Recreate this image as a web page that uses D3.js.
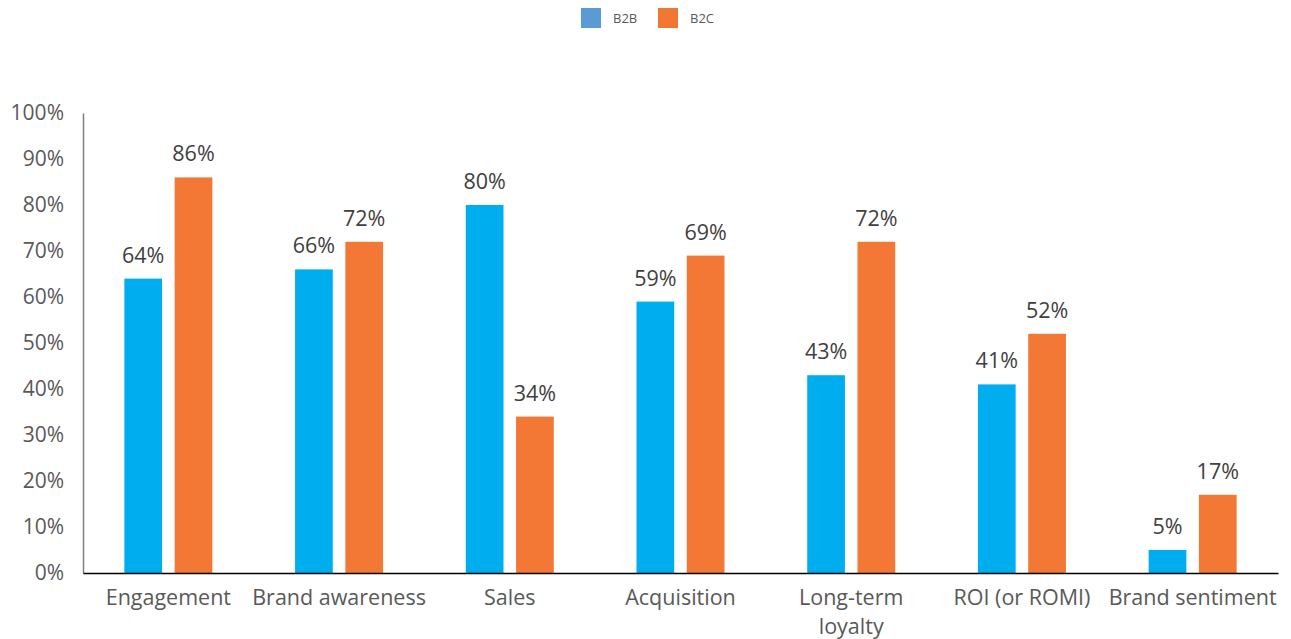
<!DOCTYPE html>
<html>
<head>
<meta charset="utf-8">
<script src="https://cdn.jsdelivr.net/npm/d3@7"></script>
<style>
  html, body { margin: 0; padding: 0; background: #fff; }
  svg { display: block; font-family: "Open Sans", "Noto Sans", sans-serif; }
</style>
</head>
<body>
<svg id="chart" width="1291" height="639"></svg>
<script>
// Social media goals by business type
const categories = ["Engagement", "Brand awareness", "Sales", "Acquisition", "Long-term loyalty", "ROI (or ROMI)", "Brand sentiment"];
const categoryLines = [["Engagement"], ["Brand awareness"], ["Sales"], ["Acquisition"], ["Long-term", "loyalty"], ["ROI (or ROMI)"], ["Brand sentiment"]];
const seriesNames = ["B2B", "B2C"];
const b2b = [64, 66, 80, 59, 43, 41, 5];
const b2c = [86, 72, 34, 69, 72, 52, 17];
const yTicks = [0, 10, 20, 30, 40, 50, 60, 70, 80, 90, 100];

const barColors = { B2B: "#00AEEF", B2C: "#F37735" };
const legendColors = { B2B: "#5B9BD5", B2C: "#F07833" };

const svg = d3.select("#chart");
const margin = { left: 83, right: 13, top: 113, bottom: 66 };
const W = 1291, H = 639;

const x = d3.scaleBand().domain(categories).range([margin.left, W - margin.right]).paddingInner(0).paddingOuter(0);
const xs = d3.scaleBand().domain(seriesNames).range([0, 88]).paddingInner(0.25);
const y = d3.scaleLinear().domain([0, 100]).range([H - margin.bottom, margin.top]);

const rows = categories.map((c, i) => ({ cat: c, B2B: b2b[i], B2C: b2c[i] }));

// Bars
const groups = svg.append("g").selectAll("g").data(rows).join("g")
  .attr("transform", d => `translate(${x(d.cat) + x.bandwidth() / 2 - 44},0)`);

groups.selectAll("rect").data(d => seriesNames.map(s => ({ s, v: d[s] }))).join("rect")
  .attr("x", d => xs(d.s))
  .attr("width", xs.bandwidth())
  .attr("y", d => y(d.v))
  .attr("height", d => y(0) - y(d.v))
  .attr("fill", d => barColors[d.s]);

// Value labels
groups.selectAll("text").data(d => seriesNames.map(s => ({ s, v: d[s] }))).join("text")
  .attr("x", d => xs(d.s) + xs.bandwidth() / 2)
  .attr("y", d => y(d.v) - 16)
  .attr("text-anchor", "middle")
  .attr("font-size", 21.5)
  .attr("fill", "#404040")
  .text(d => d.v + "%");

// Y axis
const yAxis = svg.append("g").attr("transform", `translate(${margin.left},0)`)
  .call(d3.axisLeft(y).tickValues(yTicks).tickSize(0).tickPadding(19).tickFormat(d => d + "%"));
yAxis.select(".domain").attr("stroke", "#7f7f7f").attr("stroke-width", 1.5);
yAxis.selectAll("text").attr("font-size", 21).attr("fill", "#595959")
  .attr("font-family", "'Open Sans', 'Noto Sans', sans-serif");

// X axis
const xAxis = svg.append("g").attr("transform", `translate(0,${y(0)})`)
  .call(d3.axisBottom(x).tickSize(0).tickFormat(""));
xAxis.select(".domain").attr("stroke", "#000").attr("stroke-width", 1.5);

// Category labels (multi-line where needed)
svg.append("g").selectAll("text").data(categories).join("text")
  .attr("x", d => x(d) + x.bandwidth() / 2)
  .attr("y", y(0) + 32)
  .attr("text-anchor", "middle")
  .attr("font-size", 21.5)
  .attr("fill", "#595959")
  .each(function (d, i) {
    d3.select(this).selectAll("tspan").data(categoryLines[i]).join("tspan")
      .attr("x", x(d) + x.bandwidth() / 2)
      .attr("dy", (t, j) => j === 0 ? 0 : 29)
      .text(t => t);
  });

// Legend
const legend = svg.append("g").attr("transform", "translate(581,8)");
const li = legend.selectAll("g").data(seriesNames).join("g")
  .attr("transform", (d, i) => `translate(${i * 77},0)`);
li.append("rect").attr("width", 20).attr("height", 20).attr("fill", d => legendColors[d]);
li.append("text").attr("x", 32).attr("y", 15).attr("font-size", 13).attr("fill", "#595959").text(d => d);
</script>
</body>
</html>
